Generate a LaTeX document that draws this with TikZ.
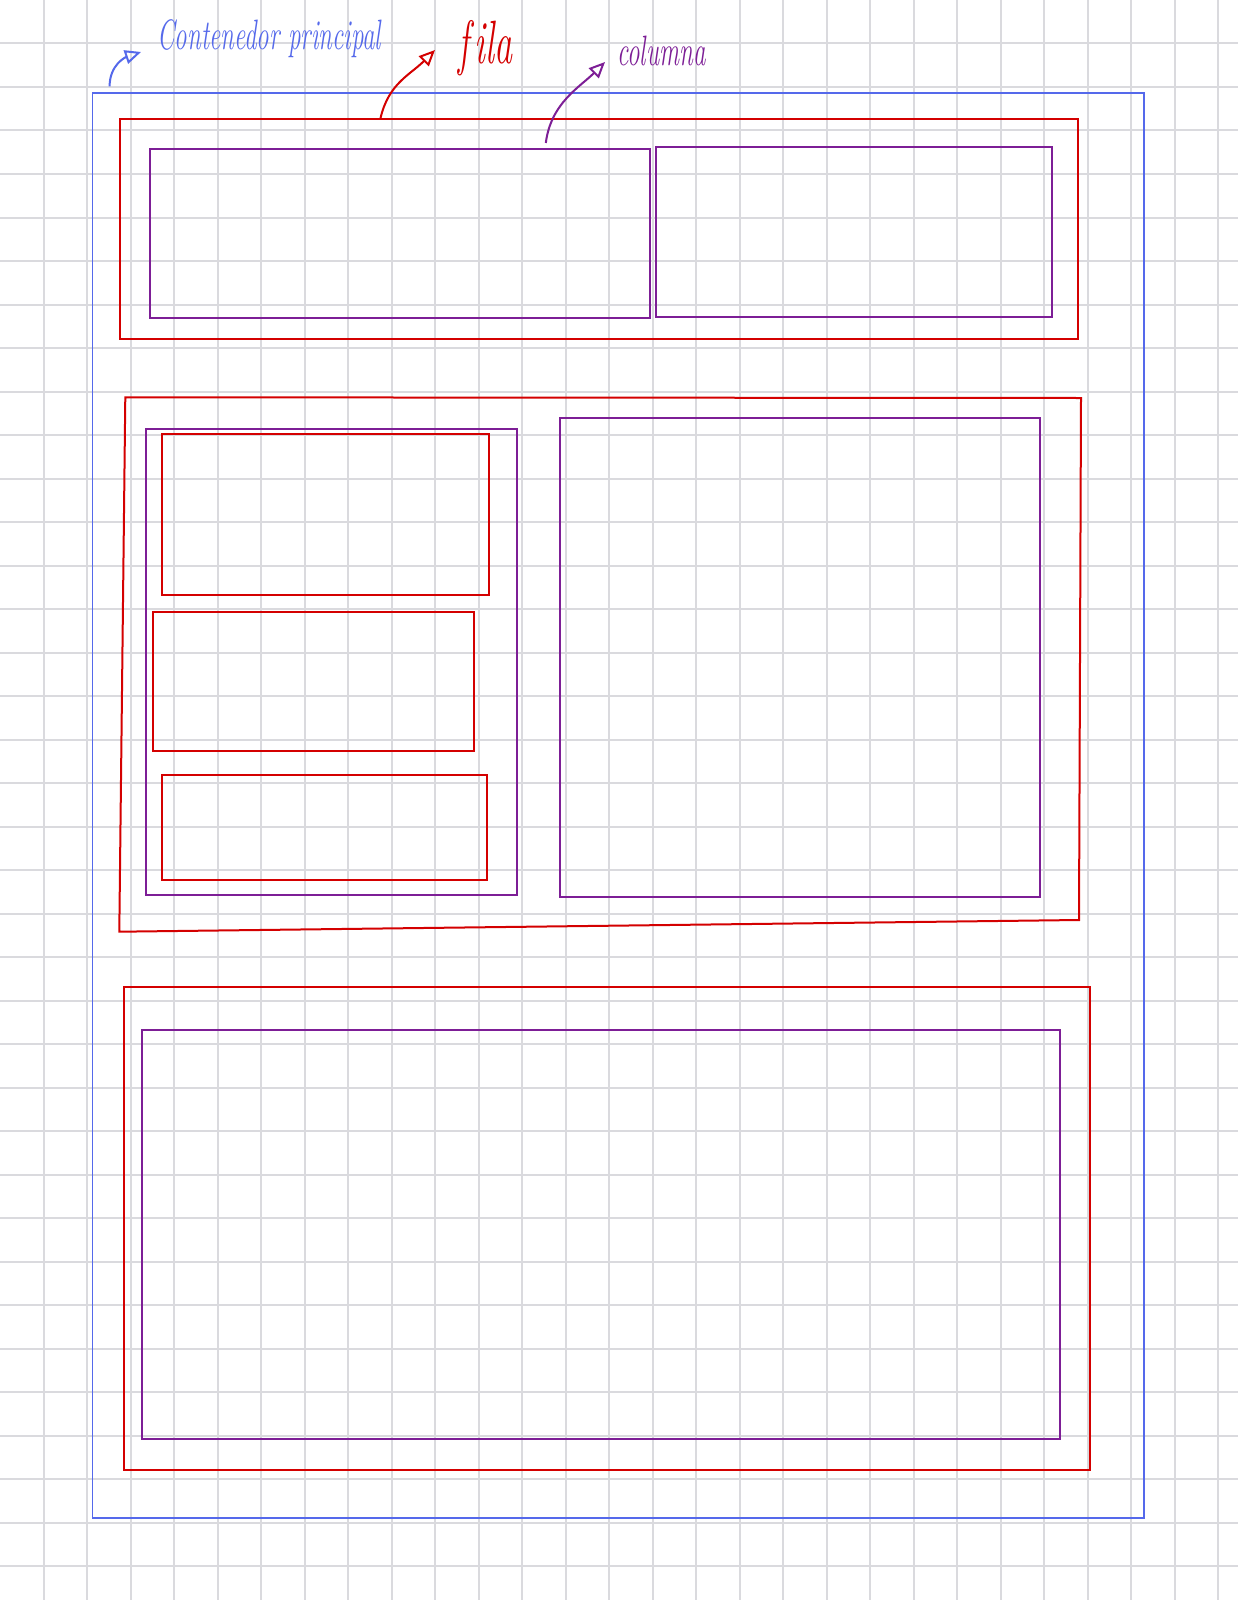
\documentclass[tikz,border=0pt]{standalone}
\usepackage{graphicx}
\usetikzlibrary{fit,calc,arrows.meta}

\definecolor{azul}{RGB}{85,105,235}
\definecolor{rojo}{RGB}{212,0,0}
\definecolor{morado}{RGB}{125,30,150}
\definecolor{gris}{RGB}{218,218,222}

\newcommand{\alto}[1]{\scalebox{1}[1.7]{#1}}

\tikzset{
  rejilla/.style={draw=gris, line width=1pt},
  contenedor/.style={draw=azul, line width=0.9pt, inner sep=0pt},
  fila/.style={draw=rojo, line width=1pt, inner sep=0pt},
  columna/.style={draw=morado, line width=1pt, inner sep=0pt},
  nota/.style={inner sep=0pt, font=\fontsize{12.5}{14}\selectfont\itshape},
  flecha/.style={line width=1pt, -{Triangle[open,length=8pt,width=7pt]}}
}

\begin{document}
\begin{tikzpicture}[x=0.5pt, y=-0.5pt]

\useasboundingbox (0,0) rectangle (1238,1600);
\fill[white] (0,0) rectangle (1238,1600);

% cuadricula
\foreach \i in {1,...,28}
  \draw[rejilla] (\i*43.5,0) -- (\i*43.5,1600);
\foreach \j in {1,...,36}
  \draw[rejilla] (0,\j*43.5) -- (1238,\j*43.5);

% contenedor principal
\node[contenedor, fit={(92.5,93.3) (1144.3,1518.3)}] (principal) {};

% fila 1
\node[fila, fit={(120.3,119.5) (1078.3,339.3)}] (fila1) {};
\node[columna, fit={(150,149) (650.3,318.3)}] (col11) {};
\node[columna, fit={(655.7,146.7) (1051.7,317)}] (col12) {};

% fila 2 (a mano, algo torcida)
\coordinate (f2a) at (125.3,397.3);
\coordinate (f2b) at (1081,398);
\coordinate (f2c) at (1079,920);
\coordinate (f2d) at (119.3,931.7);
\draw[fila] (f2a) -- (f2b) -- (f2c) -- (f2d) -- cycle;

\node[columna, fit={(145.7,429) (516.7,895)}] (col21) {};
\node[fila, fit={(161.7,434.3) (489.3,595)}] (fila21) {};
\node[fila, fit={(153,612) (473.7,750.7)}] (fila22) {};
\node[fila, fit={(162.3,775.3) (487,880.3)}] (fila23) {};
\node[columna, fit={(559.6,417.7) (1039.8,897.3)}] (col22) {};

% fila 3
\node[fila, fit={(123.7,987) (1090,1470)}] (fila3) {};
\node[columna, fit={(141.7,1030.3) (1060,1439)}] (col31) {};

% notas
\node[nota, text=azul, anchor=base west] (tPrincipal) at (157,50) {\alto{Contenedor principal}};
\node[nota, text=rojo, anchor=base west, font=\fontsize{18}{20}\selectfont\itshape]
  (tFila) at (458,64) {\alto{f\/ila}};
\node[nota, text=morado, anchor=base west] (tColumna) at (617,66) {\alto{columna}};

\draw[flecha, azul] ([shift={(9pt,3pt)}]principal.north west)
  .. controls +(0,-22) and +(-15,5) .. ([shift={(-8pt,-1pt)}]tPrincipal.base west);
\draw[flecha, rojo] ($(fila1.north west)!0.272!(fila1.north east)$)
  .. controls +(8,-35) and +(-25,25) .. ([shift={(-11.5pt,7pt)}]tFila.base west);
\draw[flecha, morado] ($(col11.north west)!0.79!(col11.north east) + (0,-5)$)
  .. controls +(5,-40) and +(-25,25) .. ([shift={(-6pt,2pt)}]tColumna.base west);

\end{tikzpicture}
\end{document}
